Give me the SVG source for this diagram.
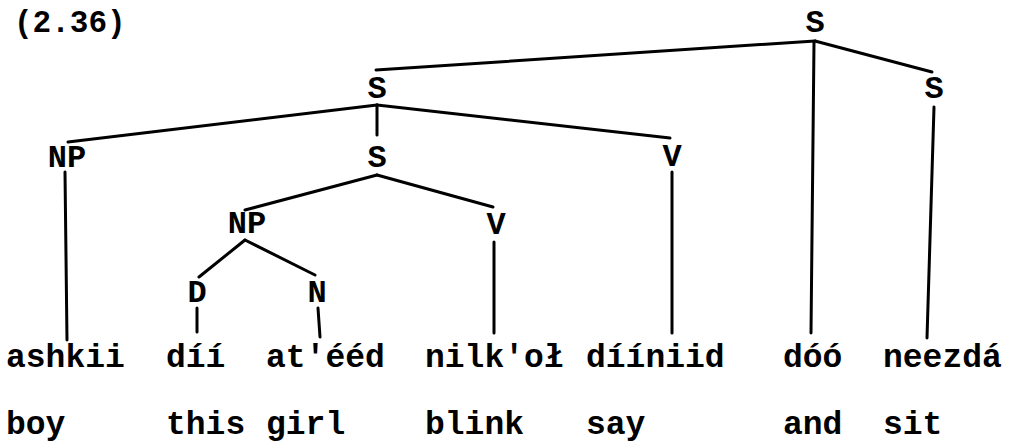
<svg xmlns="http://www.w3.org/2000/svg" width="1010" height="443" viewBox="0 0 1010 443">
<style>
  .lbl { font-family: "Liberation Mono", "DejaVu Sans Mono", monospace; font-weight: bold; font-size: 32px; fill: #000; text-anchor: middle; }
  .word { font-family: "Liberation Mono", "DejaVu Sans Mono", monospace; font-weight: bold; font-size: 33px; fill: #000; }
  .title { font-family: "Liberation Mono", "DejaVu Sans Mono", monospace; font-weight: bold; font-size: 31px; fill: #000; }
  .edges line { stroke: #000; stroke-width: 3; stroke-linecap: round; }
</style>
<rect width="1010" height="443" fill="#fff"/>
<text class="title" x="14" y="32">(2.36)</text>

<g class="edges" id="connectors">
  <line x1="815" y1="41" x2="376" y2="70"/>
  <line x1="815" y1="41" x2="932" y2="72"/>
  <line x1="814" y1="42" x2="811" y2="333"/>
  <line x1="934" y1="107" x2="927" y2="338"/>
  <line x1="377" y1="105" x2="68" y2="142"/>
  <line x1="377" y1="105" x2="377" y2="135"/>
  <line x1="377" y1="105" x2="670" y2="138"/>
  <line x1="65" y1="172" x2="67" y2="340"/>
  <line x1="377" y1="175" x2="245" y2="210"/>
  <line x1="377" y1="175" x2="493" y2="207"/>
  <line x1="245" y1="240" x2="199" y2="277"/>
  <line x1="245" y1="240" x2="315" y2="275"/>
  <line x1="197" y1="308" x2="197" y2="332"/>
  <line x1="318" y1="308" x2="320" y2="337"/>
  <line x1="494" y1="242" x2="494" y2="333"/>
  <line x1="672" y1="172" x2="672" y2="333"/>
</g>

<g id="node-S-top"><text class="lbl" x="815" y="32">S</text></g>
<g id="node-S-mid"><text class="lbl" x="377" y="98">S</text></g>
<g id="node-S-right"><text class="lbl" x="934" y="98">S</text></g>
<g id="node-NP-1"><text class="lbl" x="67" y="167">NP</text></g>
<g id="node-S-low"><text class="lbl" x="377" y="167">S</text></g>
<g id="node-V-1"><text class="lbl" x="672" y="166">V</text></g>
<g id="node-NP-2"><text class="lbl" x="247" y="233">NP</text></g>
<g id="node-V-2"><text class="lbl" x="496" y="234">V</text></g>
<g id="node-D"><text class="lbl" x="197" y="302">D</text></g>
<g id="node-N"><text class="lbl" x="317" y="302">N</text></g>

<g id="words">
  <text class="word" x="6" y="367">ashkii</text>
  <text class="word" x="166" y="367">díí</text>
  <text class="word" x="266" y="367">at'ééd</text>
  <text class="word" x="425" y="367">nilk'oł</text>
  <text class="word" x="586" y="367">dííniid</text>
  <text class="word" x="783" y="367">dóó</text>
  <text class="word" x="883" y="367">neezdá</text>
</g>
<g id="glosses">
  <text class="word" x="6" y="434">boy</text>
  <text class="word" x="166" y="434">this</text>
  <text class="word" x="266" y="434">girl</text>
  <text class="word" x="425" y="434">blink</text>
  <text class="word" x="586" y="434">say</text>
  <text class="word" x="783" y="434">and</text>
  <text class="word" x="883" y="434">sit</text>
</g>
</svg>
